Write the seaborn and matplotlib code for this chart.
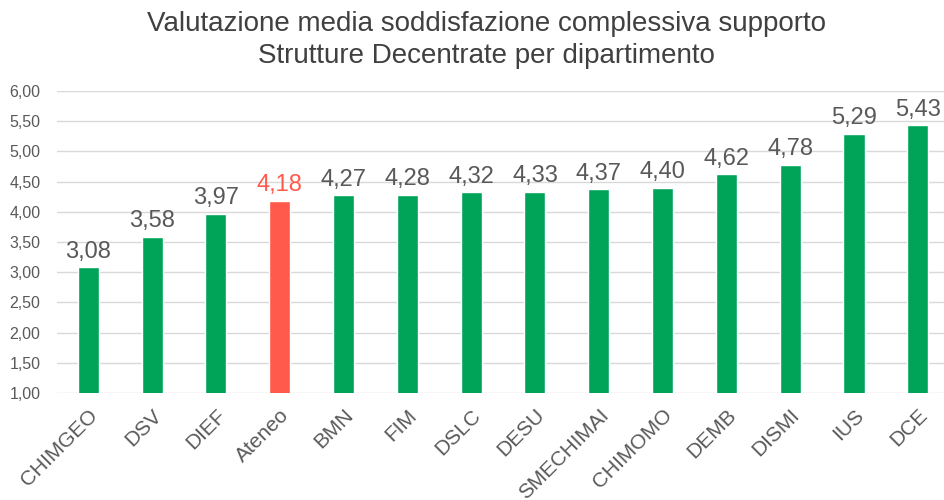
import matplotlib
matplotlib.use("Agg")
import matplotlib.pyplot as plt
import pandas as pd
import seaborn as sns

departments = ["CHIMGEO", "DSV", "DIEF", "Ateneo", "BMN", "FIM", "DSLC", "DESU",
               "SMECHIMAI", "CHIMOMO", "DEMB", "DISMI", "IUS", "DCE"]
scores = [3.08, 3.58, 3.97, 4.18, 4.27, 4.28, 4.32, 4.33, 4.37, 4.40, 4.62, 4.78, 5.29, 5.43]
y_ticks = [1.0, 1.5, 2.0, 2.5, 3.0, 3.5, 4.0, 4.5, 5.0, 5.5, 6.0]

GREEN = "#00A459"
RED = "#FF5A4C"
TEXT = "#595959"

sns.set_style("white")
plt.rcParams["font.family"] = ["Liberation Sans", "DejaVu Sans"]

df = pd.DataFrame({"dept": departments, "score": scores})
palette = {d: (RED if d == "Ateneo" else GREEN) for d in departments}

fig = plt.figure(figsize=(9.44, 5.0), dpi=100)
ax = fig.add_axes([57 / 944, 0.214, 1 - 57 / 944, 0.818 - 0.214])

sns.barplot(data=df, x="dept", y="score", hue="dept", palette=palette,
            legend=False, width=0.33, saturation=1, ax=ax)

ax.set_ylim(1, 6)
ax.set_xlim(-0.49, 13.41)
ax.set_yticks(y_ticks)
ax.set_yticklabels([f"{v:.2f}".replace(".", ",") for v in y_ticks], fontsize=11.5, color=TEXT)
ax.set_xticks(range(len(departments)))
ax.set_xticklabels(departments, rotation=45, ha="right", rotation_mode="anchor",
                   fontsize=15, color=TEXT)
ax.tick_params(axis="y", length=0, pad=12)
ax.tick_params(axis="x", length=0, pad=9)
ax.grid(axis="y", color="#D9D9D9", linewidth=1)
ax.set_axisbelow(True)
for s in ax.spines.values():
    s.set_visible(False)
ax.set_xlabel("")
ax.set_ylabel("")

for i, (d, v) in enumerate(zip(departments, scores)):
    ax.text(i, v + 0.08, f"{v:.2f}".replace(".", ","), ha="center", va="bottom",
            fontsize=17, color=(RED if d == "Ateneo" else TEXT))

fig.text(0.515, 0.978, "Valutazione media soddisfazione complessiva supporto\nStrutture Decentrate per dipartimento",
         ha="center", va="top", fontsize=20, color="#404040", linespacing=1.3)

fig.savefig("out.png", dpi=100)
